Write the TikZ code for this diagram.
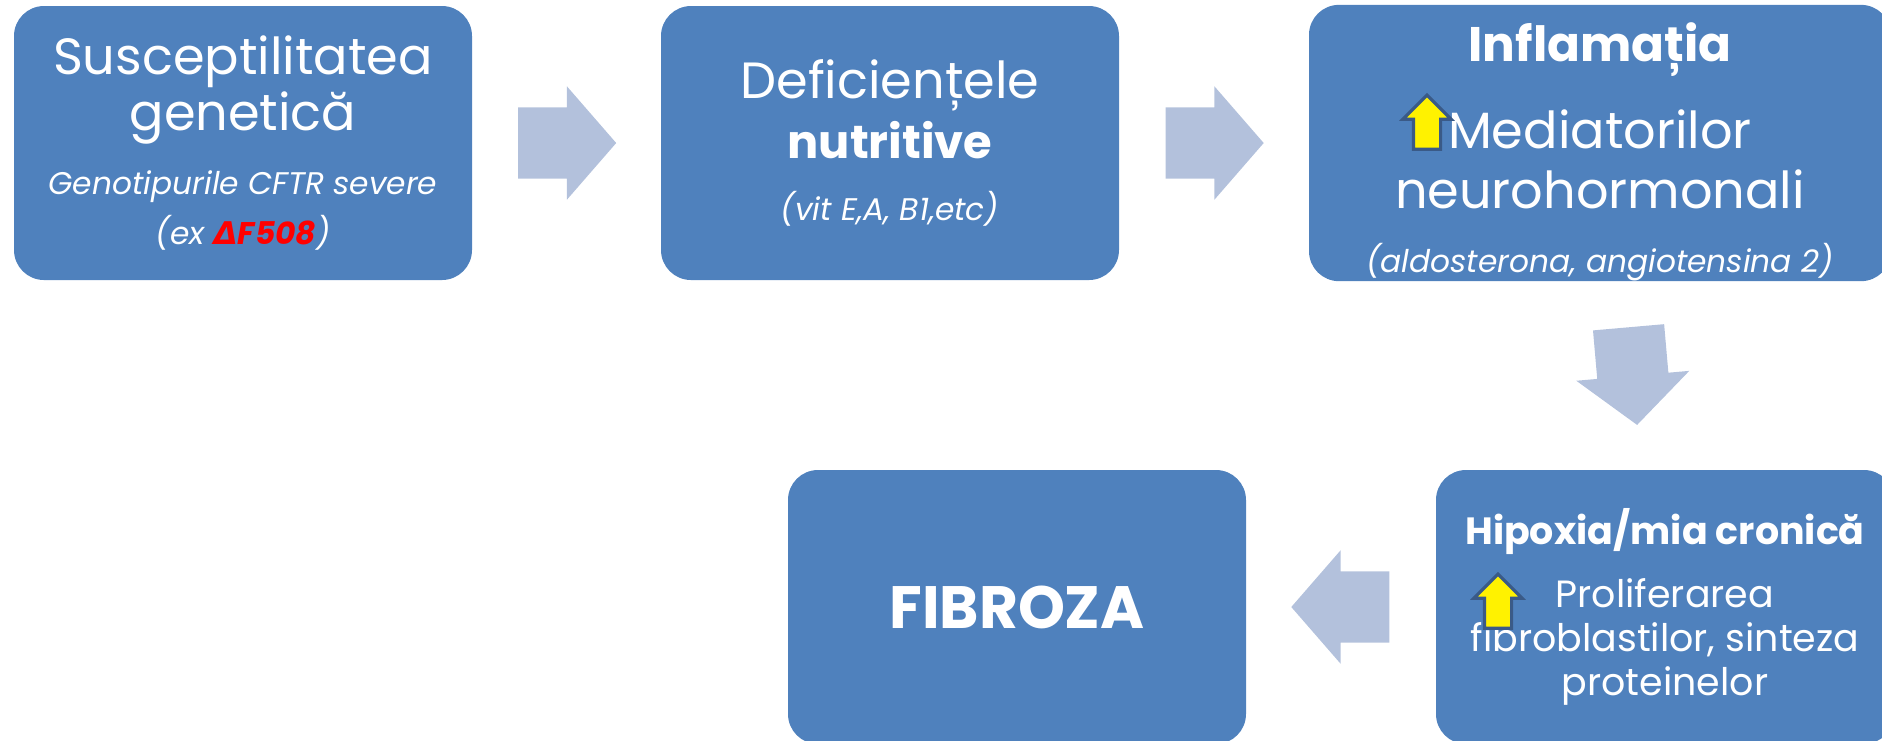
\documentclass[tikz,border=0pt]{standalone}
\usepackage{fontspec}
\setmainfont{Poppins}
\newfontfamily\deltafont{DejaVu Sans}
\usetikzlibrary{shapes.arrows,calc}

\definecolor{boxblue}{HTML}{4F81BD}
\definecolor{flowblue}{HTML}{B3C1DC}
\definecolor{upline}{HTML}{3A5A87}

\tikzset{
  stage/.style={rounded corners=3mm, fill=boxblue, text=white, align=center,
    inner sep=0pt, minimum width=45.8mm, minimum height=27.4mm,
    font=\fontsize{14.5}{14.2}\selectfont},
  flow/.style={single arrow, fill=flowblue, inner xsep=0pt, inner ysep=3.5mm,
    minimum height=9.8mm, single arrow head extend=2.1mm,
    single arrow tip angle=98, anchor=tail},
  upmark/.style={single arrow, fill=yellow, draw=upline, line width=0.9pt,
    inner xsep=0pt, inner ysep=1.2mm, minimum height=5.4mm,
    single arrow head extend=1.05mm, single arrow tip angle=90, rotate=90},
}

\newcommand\notetext{\fontsize{8.9}{14.2}\selectfont\itshape}

\begin{document}
\begin{tikzpicture}[x=0.1mm, y=-0.1mm]
\useasboundingbox (0,0) rectangle (1882,740);
\clip (0,0) rectangle (1882,740);

% top row
\node[stage] (gen) at (243,143)
  {Susceptilitatea\\genetică\\[4pt]
   {\notetext Genotipurile CFTR severe}\\
   {\notetext (ex \textcolor{red}{\bfseries{\deltafont Δ}F508})}};
\node[stage] (nutr) at (890,143)
  {Deficiențele\\[3pt]{\fontsize{13.2}{14.2}\selectfont\bfseries nutritive}\\[3.5pt]
   {\notetext (vit E,A, B1,etc)}};
\node[stage, minimum width=58.2mm] (infl) at (1600,143)
  {\rule{0pt}{16pt}{\fontsize{13.8}{14.2}\selectfont\bfseries Inflamația}\\[8.5pt]
   Mediatorilor\\[3pt]neurohormonali\\[4pt]
   {\notetext (aldosterona, angiotensina 2)}};

% bottom row
\node[stage, font=\fontsize{10.8}{12.5}\selectfont] (hipo) at (1665,607)
  {\textbf{Hipoxia/mia cronică}\\[5.5pt]Proliferarea\\fibroblastilor, sinteza\\proteinelor};
\node[stage, font=\fontsize{17}{20}\selectfont\bfseries] (fib) at (1017,607) {FIBROZA};

% block arrows between the stages (tail set half a length back from the midpoint)
\node[flow] (f1) at ($(gen.east)!0.5!(nutr.west)+(-49,0)$) {};
\node[flow] (f2) at ($(nutr.east)!0.5!(infl.west)+(-49,0)$) {};
\node[flow, rotate=-85] (f3) at ($(infl.south)!0.5!(hipo.north)+(-4,-49)$) {};
\node[flow, rotate=180] (f4) at ($(hipo.west)!0.5!(fib.east)+(49,0)$) {};

% yellow "increase" marks
\node[upmark] (up1) at ($(infl.center)+(-173,-14)$) {};
\node[upmark] (up2) at ($(hipo.center)+(-167,1)$) {};
\end{tikzpicture}
\end{document}
